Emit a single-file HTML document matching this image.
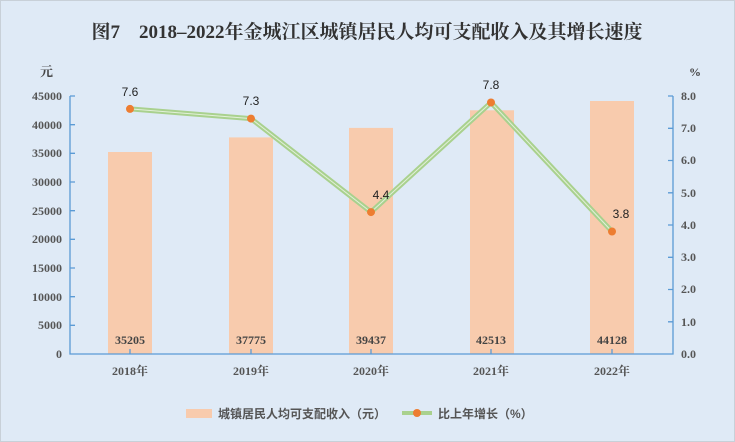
<!DOCTYPE html><html><head><meta charset="utf-8"><style>
body{margin:0;width:735px;height:442px;overflow:hidden;background:#fff}
svg{display:block}
</style></head><body>
<svg width="735" height="442" xmlns="http://www.w3.org/2000/svg" font-family="'Liberation Serif','Noto Serif CJK SC',serif">
<rect x="0.5" y="0.5" width="734" height="441" fill="#dfeaf6" stroke="#c8d0d8"/>
<text x="367" y="38" text-anchor="middle" font-size="19" font-weight="bold" fill="#333">图7　2018–2022年金城江区城镇居民人均可支配收入及其增长速度</text>
<text x="40" y="76" font-size="13" font-weight="bold" fill="#444">元</text>
<text x="689" y="76" font-size="12" font-weight="bold" fill="#444">%</text>
<g fill="#f8cbad">
<rect x="108" y="152" width="44" height="202"/>
<rect x="229" y="137.4" width="44" height="216.6"/>
<rect x="349" y="127.9" width="44" height="226.1"/>
<rect x="470" y="110.3" width="44" height="243.7"/>
<rect x="590" y="101" width="44" height="253"/>
</g>
<g stroke="#5b9bd5" stroke-width="1.3" fill="none">
<path d="M70 96V354H673V96"/>
<path d="M70 96h5M70 124.7h5M70 153.3h5M70 182h5M70 210.7h5M70 239.3h5M70 268h5M70 296.7h5M70 325.3h5"/>
<path d="M673 96h-5M673 128.3h-5M673 160.5h-5M673 192.8h-5M673 225h-5M673 257.3h-5M673 289.5h-5M673 321.8h-5"/>
<path d="M130 354v-5M251 354v-5M371 354v-5M491 354v-5M612 354v-5"/>
</g>
<g font-size="12" font-weight="bold" fill="#555" text-anchor="end">
<text x="62" y="100">45000</text><text x="62" y="129">40000</text><text x="62" y="157">35000</text><text x="62" y="186">30000</text><text x="62" y="215">25000</text><text x="62" y="243">20000</text><text x="62" y="272">15000</text><text x="62" y="301">10000</text><text x="62" y="329">5000</text><text x="62" y="358">0</text>
</g>
<g font-size="12" font-weight="bold" fill="#555">
<text x="681" y="100">8.0</text><text x="681" y="132">7.0</text><text x="681" y="164">6.0</text><text x="681" y="197">5.0</text><text x="681" y="229">4.0</text><text x="681" y="261">3.0</text><text x="681" y="293">2.0</text><text x="681" y="326">1.0</text><text x="681" y="358">0.0</text>
</g>
<g font-size="12" font-weight="bold" fill="#444" text-anchor="middle">
<text x="130" y="344">35205</text><text x="251" y="344">37775</text><text x="371" y="344">39437</text><text x="491" y="344">42513</text><text x="612" y="344">44128</text>
</g>
<g font-size="12" font-weight="bold" fill="#555" text-anchor="middle">
<text x="130" y="375">2018年</text><text x="251" y="375">2019年</text><text x="371" y="375">2020年</text><text x="491" y="375">2021年</text><text x="612" y="375">2022年</text>
</g>
<polyline points="130,108.9 251,118.6 371,212.1 491,102.5 612,231.5" fill="none" stroke="#a9d18e" stroke-width="5" stroke-linejoin="round"/>
<polyline points="130,108.9 251,118.6 371,212.1 491,102.5 612,231.5" fill="none" stroke="#e2f0d9" stroke-width="1"/>
<g fill="#ed7d31">
<circle cx="130" cy="108.9" r="4"/><circle cx="251" cy="118.6" r="4"/><circle cx="371" cy="212.1" r="4"/><circle cx="491" cy="102.5" r="4"/><circle cx="612" cy="231.5" r="4"/>
</g>
<g font-size="12" fill="#222" text-anchor="middle" font-family="'Liberation Sans',sans-serif">
<text x="130" y="96">7.6</text><text x="251" y="105">7.3</text><text x="381" y="199">4.4</text><text x="491" y="89">7.8</text><text x="621" y="218">3.8</text>
</g>
<rect x="186" y="409" width="26" height="9" fill="#f8cbad"/>
<text x="218" y="418" font-size="12" font-weight="bold" fill="#555" font-family="'Liberation Sans','Noto Sans CJK SC',sans-serif">城镇居民人均可支配收入（元）</text>
<line x1="402" y1="413" x2="432" y2="413" stroke="#a9d18e" stroke-width="4"/>
<circle cx="417" cy="413" r="4" fill="#ed7d31"/>
<text x="438" y="418" font-size="12" font-weight="bold" fill="#555" font-family="'Liberation Sans','Noto Sans CJK SC',sans-serif">比上年增长（%）</text>
</svg>
</body></html>
